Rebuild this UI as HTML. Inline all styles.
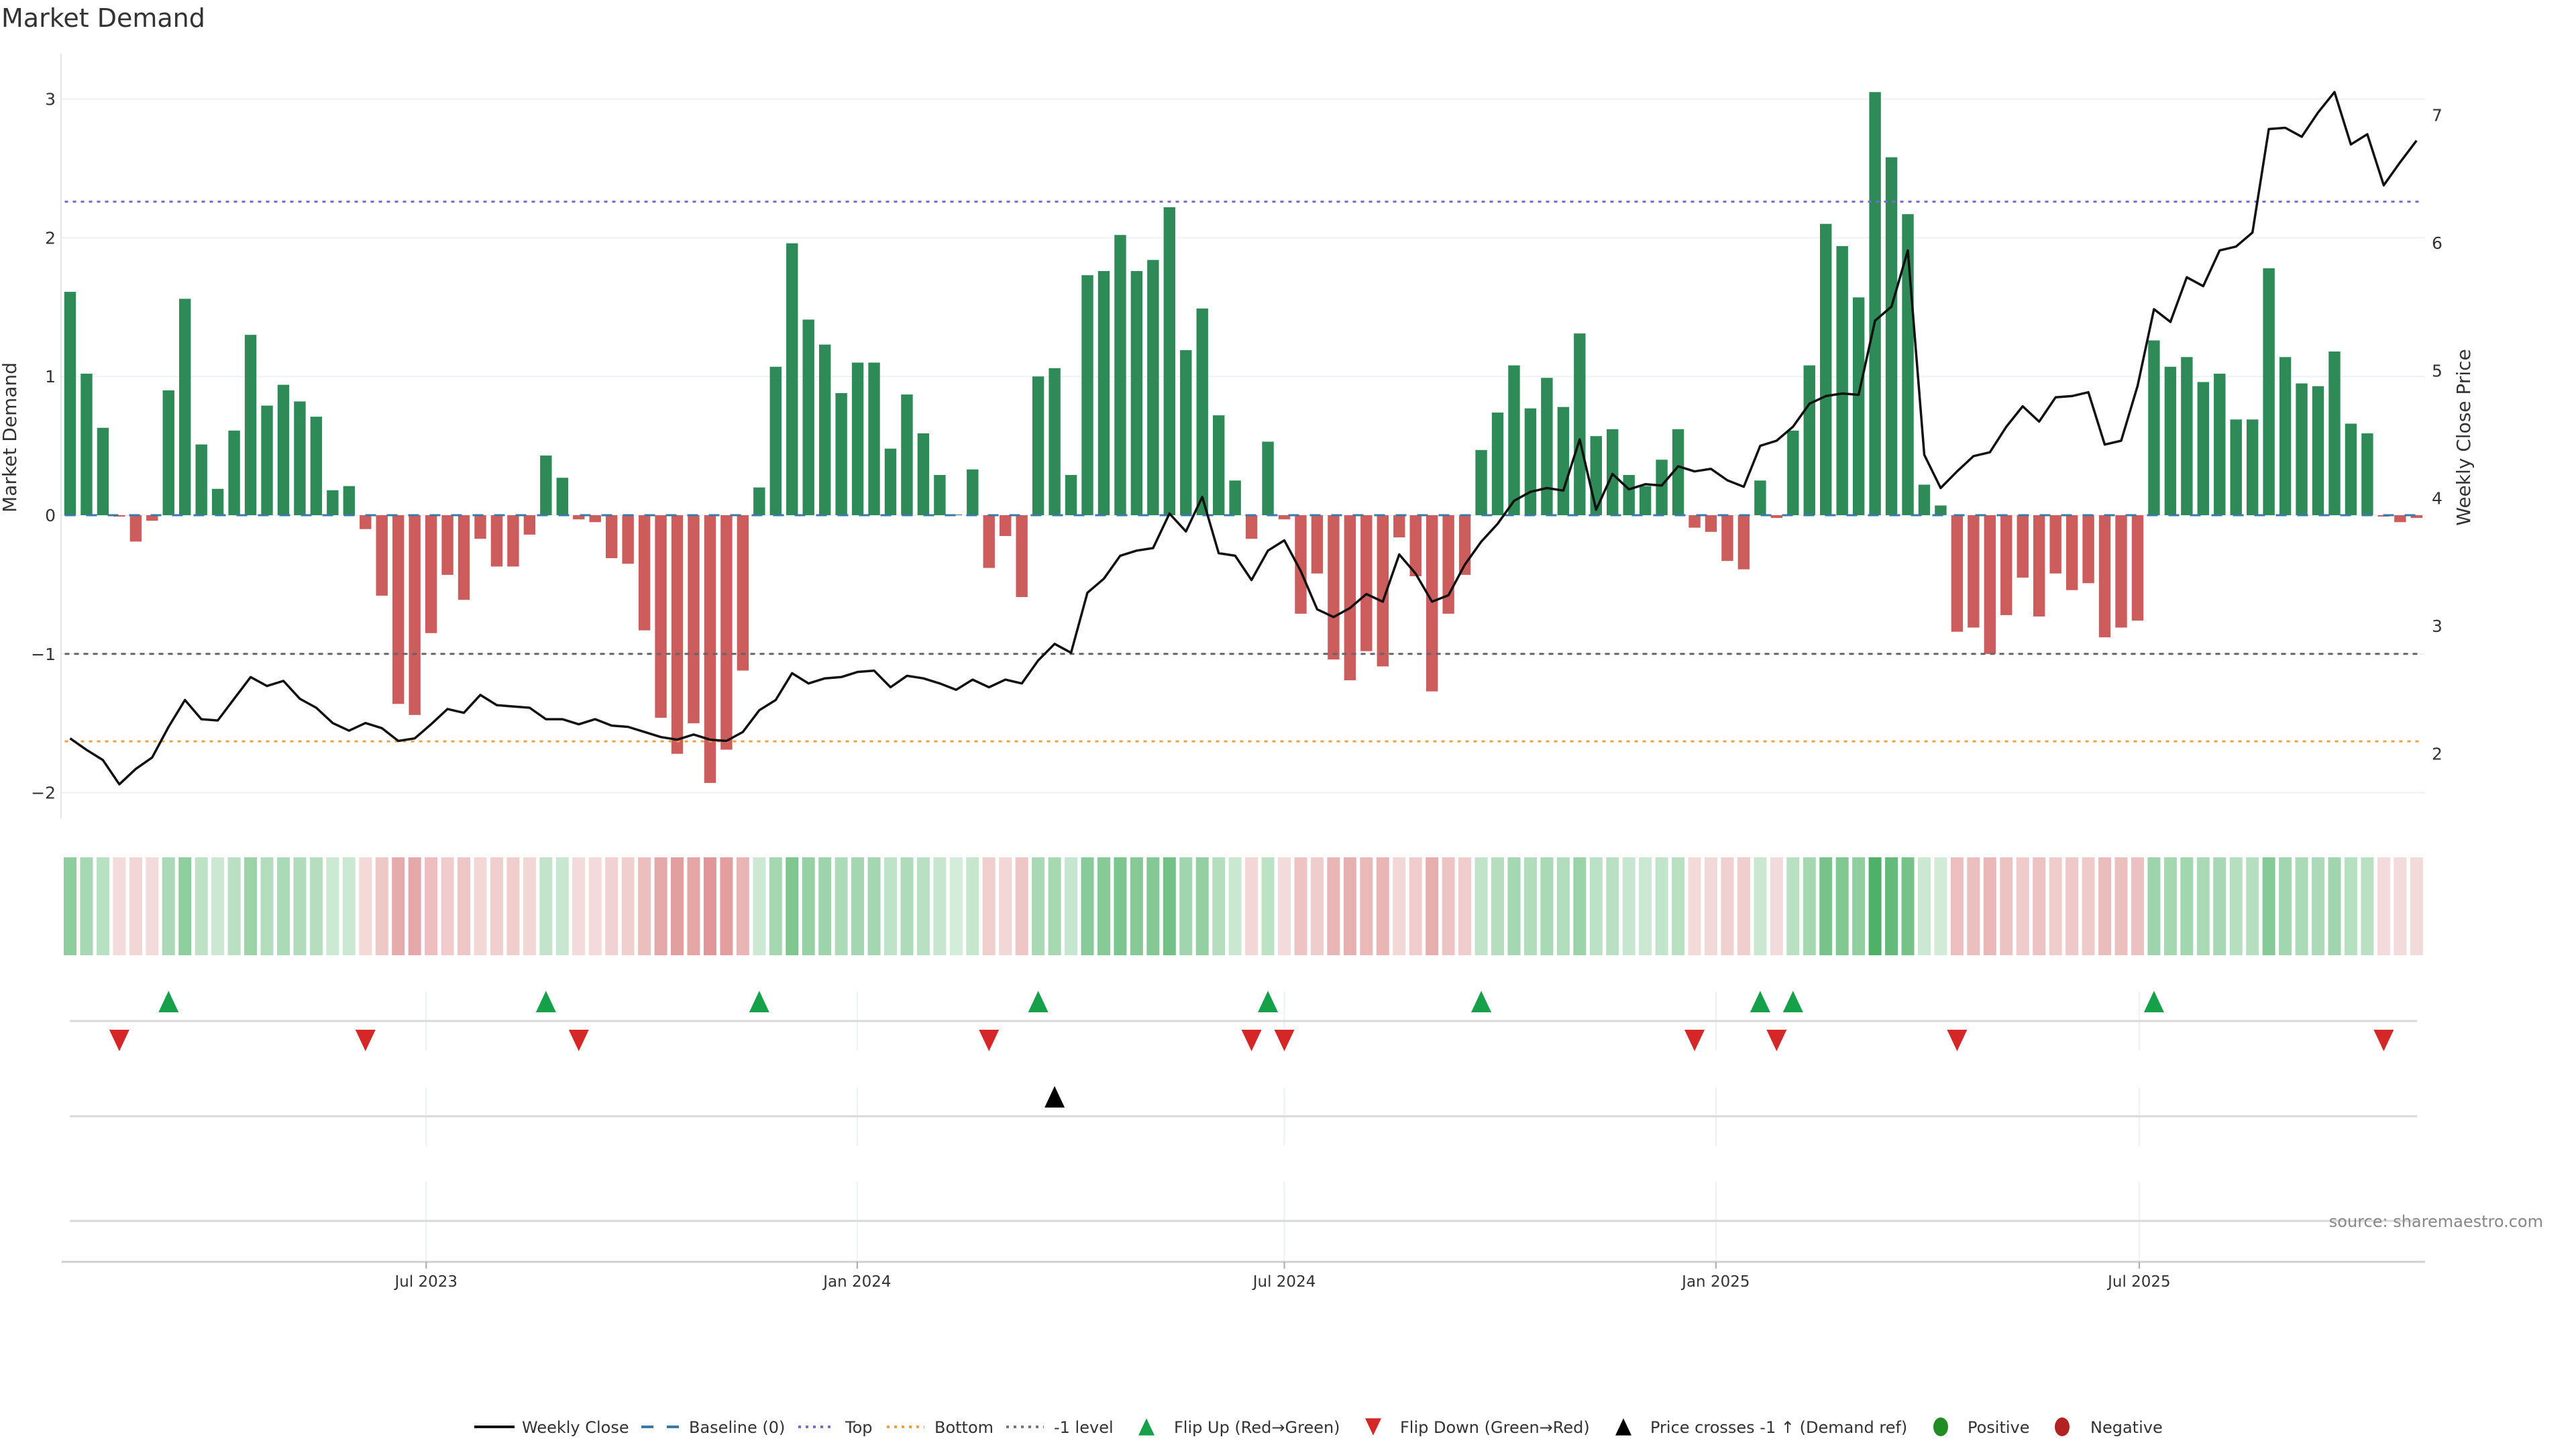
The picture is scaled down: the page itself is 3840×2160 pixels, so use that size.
<!DOCTYPE html>
<html><head><meta charset="utf-8"><style>
html,body{margin:0;padding:0;background:#fff;}
svg{display:block;font-family:"DejaVu Sans","Liberation Sans",sans-serif;}
</style></head><body>
<svg id="chart" width="3840" height="2160" viewBox="0 0 3840 2160" xmlns="http://www.w3.org/2000/svg">
<rect width="3840" height="2160" fill="#fff"/>
<text x="2" y="40" font-size="38" fill="#333">Market Demand</text>
<g id="grid"></g>
<g id="bars"></g>
<g id="refs"></g>
<g id="price"></g>
<g id="axes"></g>
<g id="strip"></g>
<g id="events"></g>
<g id="xaxis"></g>
<text transform="translate(24,652) rotate(-90)" text-anchor="middle" font-size="28" fill="#333">Market Demand</text>
<text transform="translate(3682,652) rotate(-90)" text-anchor="middle" font-size="28" fill="#333">Weekly Close Price</text>
<text x="3791" y="1829" text-anchor="end" font-size="24" fill="#888">source: sharemaestro.com</text>
<g id="legend"></g>
</svg>
<script>
const demandValues = [1.61,1.02,0.63,-0.01,-0.19,-0.04,0.90,1.56,0.51,0.19,0.61,1.30,0.79,0.94,0.82,0.71,0.18,0.21,-0.10,-0.58,-1.36,-1.44,-0.85,-0.43,-0.61,-0.17,-0.37,-0.37,-0.14,0.43,0.27,-0.03,-0.05,-0.31,-0.35,-0.83,-1.46,-1.72,-1.50,-1.93,-1.69,-1.12,0.20,1.07,1.96,1.41,1.23,0.88,1.10,1.10,0.48,0.87,0.59,0.29,0.005,0.33,-0.38,-0.15,-0.59,1.00,1.06,0.29,1.73,1.76,2.02,1.76,1.84,2.22,1.19,1.49,0.72,0.25,-0.17,0.53,-0.03,-0.71,-0.42,-1.04,-1.19,-0.98,-1.09,-0.16,-0.44,-1.27,-0.71,-0.43,0.47,0.74,1.08,0.77,0.99,0.78,1.31,0.57,0.62,0.29,0.21,0.40,0.62,-0.09,-0.12,-0.33,-0.39,0.25,-0.02,0.61,1.08,2.10,1.94,1.57,3.05,2.58,2.17,0.22,0.07,-0.84,-0.81,-1.00,-0.72,-0.45,-0.73,-0.42,-0.54,-0.49,-0.88,-0.81,-0.76,1.26,1.07,1.14,0.96,1.02,0.69,0.69,1.78,1.14,0.95,0.93,1.18,0.66,0.59,-0.01,-0.05,-0.02];
const priceValues = [2.12,2.03,1.95,1.76,1.88,1.97,2.21,2.42,2.27,2.26,2.43,2.60,2.53,2.57,2.43,2.36,2.24,2.18,2.24,2.20,2.10,2.12,2.23,2.35,2.32,2.46,2.38,2.37,2.36,2.27,2.27,2.23,2.27,2.22,2.21,2.17,2.13,2.11,2.15,2.11,2.10,2.17,2.34,2.42,2.63,2.55,2.59,2.60,2.64,2.65,2.52,2.61,2.59,2.55,2.50,2.58,2.52,2.58,2.55,2.73,2.86,2.79,3.26,3.37,3.55,3.59,3.61,3.88,3.74,4.01,3.57,3.55,3.36,3.59,3.67,3.43,3.13,3.07,3.14,3.25,3.19,3.56,3.41,3.19,3.24,3.48,3.66,3.80,3.98,4.05,4.08,4.06,4.46,3.91,4.19,4.07,4.11,4.10,4.25,4.21,4.23,4.14,4.09,4.41,4.45,4.56,4.74,4.80,4.82,4.81,5.39,5.50,5.94,4.34,4.08,4.21,4.33,4.36,4.56,4.72,4.60,4.79,4.80,4.83,4.42,4.45,4.88,5.48,5.38,5.73,5.66,5.94,5.97,6.08,6.89,6.90,6.83,7.02,7.18,6.77,6.85,6.45,6.63,6.80];
const priceCrossEvents = [61];
const demandTicks = [-2,-1,0,1,2,3];
const priceTicks = [2,3,4,5,6,7];
const dateTickLabels = ["Jul 2023","Jan 2024","Jul 2024","Jan 2025","Jul 2025"];
const dateTickWeeks = [21.7,47.97,74.0,100.3,126.1];
const refLevels = [2.26,0,-1.63,-1];

const NS="http://www.w3.org/2000/svg";
function mk(parent,tag,attrs){const e=document.createElementNS(NS,tag);for(const k in attrs)e.setAttribute(k,attrs[k]);parent.appendChild(e);return e;}
const X0=104.5, PITCH=24.46, PL=91, PR=3615;
const xAt=i=>X0+i*PITCH;
const yD=v=>768-v*206.8;
const yP=p=>171.5+(7-p)*190.4;

const grid=document.getElementById('grid');
demandTicks.forEach(t=>{
  const l=mk(grid,'line',{x1:PL,x2:PR,y1:yD(t),y2:yD(t),stroke:'#eef0f4','stroke-width':2});
  
  
  const tx=mk(grid,'text',{x:83,y:yD(t)+9,'text-anchor':'end','font-size':25,fill:'#333'});
  tx.textContent=t<0?'\u2212'+Math.abs(t):String(t);
  
  
});
priceTicks.forEach(t=>{
  const tx=mk(grid,'text',{x:3625,y:yP(t)+9,'font-size':25,fill:'#333'});
  tx.textContent=String(t);
  
  
});

const bars=document.getElementById('bars');
demandValues.forEach((v,i)=>{
  const y0=yD(0),y1=yD(v);
  const r=mk(bars,'rect',{x:xAt(i)-8.7,width:17.4,y:Math.min(y0,y1),height:Math.max(Math.abs(y1-y0),0.5),fill:v>=0?'#2e8b57':'#cd5c5c'});
  
  
});

const refs=document.getElementById('refs');
const refStyles=[{s:'#7b68d8',d:'5 7',n:'top-line'},{s:'#3a78a8',d:'16 16',n:'baseline-zero'},{s:'#f0a040',d:'5 7',n:'bottom-line'},{s:'#666',d:'7 7',n:'minus-one-line'}];
refLevels.forEach((lv,k)=>{
  const l=mk(refs,'line',{x1:X0-8,x2:xAt(demandValues.length-1)+8,y1:yD(lv),y2:yD(lv),stroke:refStyles[k].s,'stroke-width':3,'stroke-dasharray':refStyles[k].d});
  
  
});

const pg=document.getElementById('price');
const pts=priceValues.map((p,i)=>xAt(i).toFixed(1)+','+yP(p).toFixed(1)).join(' ');
const pl=mk(pg,'polyline',{points:pts,fill:'none',stroke:'#111','stroke-width':3.5,'stroke-linejoin':'round'});



const axes=document.getElementById('axes');
const ax=mk(axes,'line',{x1:PL,x2:PL,y1:80,y2:1220,stroke:'#e6e6e6','stroke-width':2});



const strip=document.getElementById('strip');
demandValues.forEach((v,i)=>{
  const a=0.2+0.62*Math.min(Math.abs(v)/3.05,1);
  const c=v>=0?'rgba(40,160,70,'+a.toFixed(3)+')':'rgba(200,70,70,'+(a*0.95).toFixed(3)+')';
  const r=mk(strip,'rect',{x:xAt(i)-9.5,width:19,y:1278,height:146,fill:c});
  
  
});

const ev=document.getElementById('events');
[[1479,1566],[1621,1708],[1762,1881]].forEach(pr=>{
  dateTickWeeks.forEach(w=>{
    const l=mk(ev,'line',{x1:xAt(w),x2:xAt(w),y1:pr[0],y2:pr[1],stroke:'#eef0f3','stroke-width':2});
    
    
  });
});
[1522,1664,1820].forEach(y=>{
  const l=mk(ev,'line',{x1:104,x2:3603,y1:y,y2:y,stroke:'#d8d8d8','stroke-width':3});
  
  
});
function tri(g,x,y,up,fill,name,s){
  s=s||1;
  const h=16*s,w=15*s;
  const p=up?`${x-w},${y+h} ${x+w},${y+h} ${x},${y-h}`:`${x-w},${y-h} ${x+w},${y-h} ${x},${y+h}`;
  const t=mk(g,'polygon',{points:p,fill:fill});
  
  
}
for(let i=1;i<demandValues.length;i++){
  const a=demandValues[i-1]>=0,b=demandValues[i]>=0;
  if(!a&&b) tri(ev,xAt(i),1493,true,'#17a04a','flip-up-marker');
  if(a&&!b) tri(ev,xAt(i),1551,false,'#d62728','flip-down-marker');
}
priceCrossEvents.forEach(w=>tri(ev,xAt(w-1),1635,true,'#000','price-cross-marker'));

const xa=document.getElementById('xaxis');
const xl=mk(xa,'line',{x1:92,x2:3615,y1:1881,y2:1881,stroke:'#d0d0d0','stroke-width':3});


dateTickLabels.forEach((lab,k)=>{
  const x=xAt(dateTickWeeks[k]);
  const t=mk(xa,'line',{x1:x,x2:x,y1:1881,y2:1891,stroke:'#aaa','stroke-width':2});
  
  
  const tx=mk(xa,'text',{x:x,y:1918,'text-anchor':'middle','font-size':23,fill:'#333'});
  tx.textContent=lab;
  
  
});

const lg=document.getElementById('legend');
const LY=2127;
function ltext(x,s){const t=mk(lg,'text',{x:x,y:LY+9,'font-size':24,fill:'#333'});t.textContent=s;}
function lline(x1,x2,c,d,w){const l=mk(lg,'line',{x1:x1,x2:x2,y1:LY,y2:LY,stroke:c,'stroke-width':w,'stroke-dasharray':d});}
lline(707,767,'#111','none',4); ltext(778,'Weekly Close');
lline(956,1012,'#3a78a8','18 20',4); ltext(1027,'Baseline (0)');
lline(1190,1245,'#7b68d8','4 7',4); ltext(1260,'Top');
lline(1322,1378,'#f0a040','4 7',4); ltext(1393,'Bottom');
lline(1500,1556,'#777','4 7',4); ltext(1571,'-1 level');
tri(lg,1709,LY,true,'#17a04a','legend-flip-up-icon',0.8); ltext(1750,'Flip Up (Red\u2192Green)');
tri(lg,2047,LY,false,'#d62728','legend-flip-down-icon',0.8); ltext(2087,'Flip Down (Green\u2192Red)');
tri(lg,2420,LY,true,'#000','legend-price-cross-icon',0.8); ltext(2460,'Price crosses -1 \u2191 (Demand ref)');
const c1=mk(lg,'ellipse',{cx:2893,cy:LY,rx:11,ry:14,fill:'#228b22'});


ltext(2933,'Positive');
const c2=mk(lg,'ellipse',{cx:3074,cy:LY,rx:11,ry:14,fill:'#b22222'});


ltext(3116,'Negative');
</script>
</body></html>
